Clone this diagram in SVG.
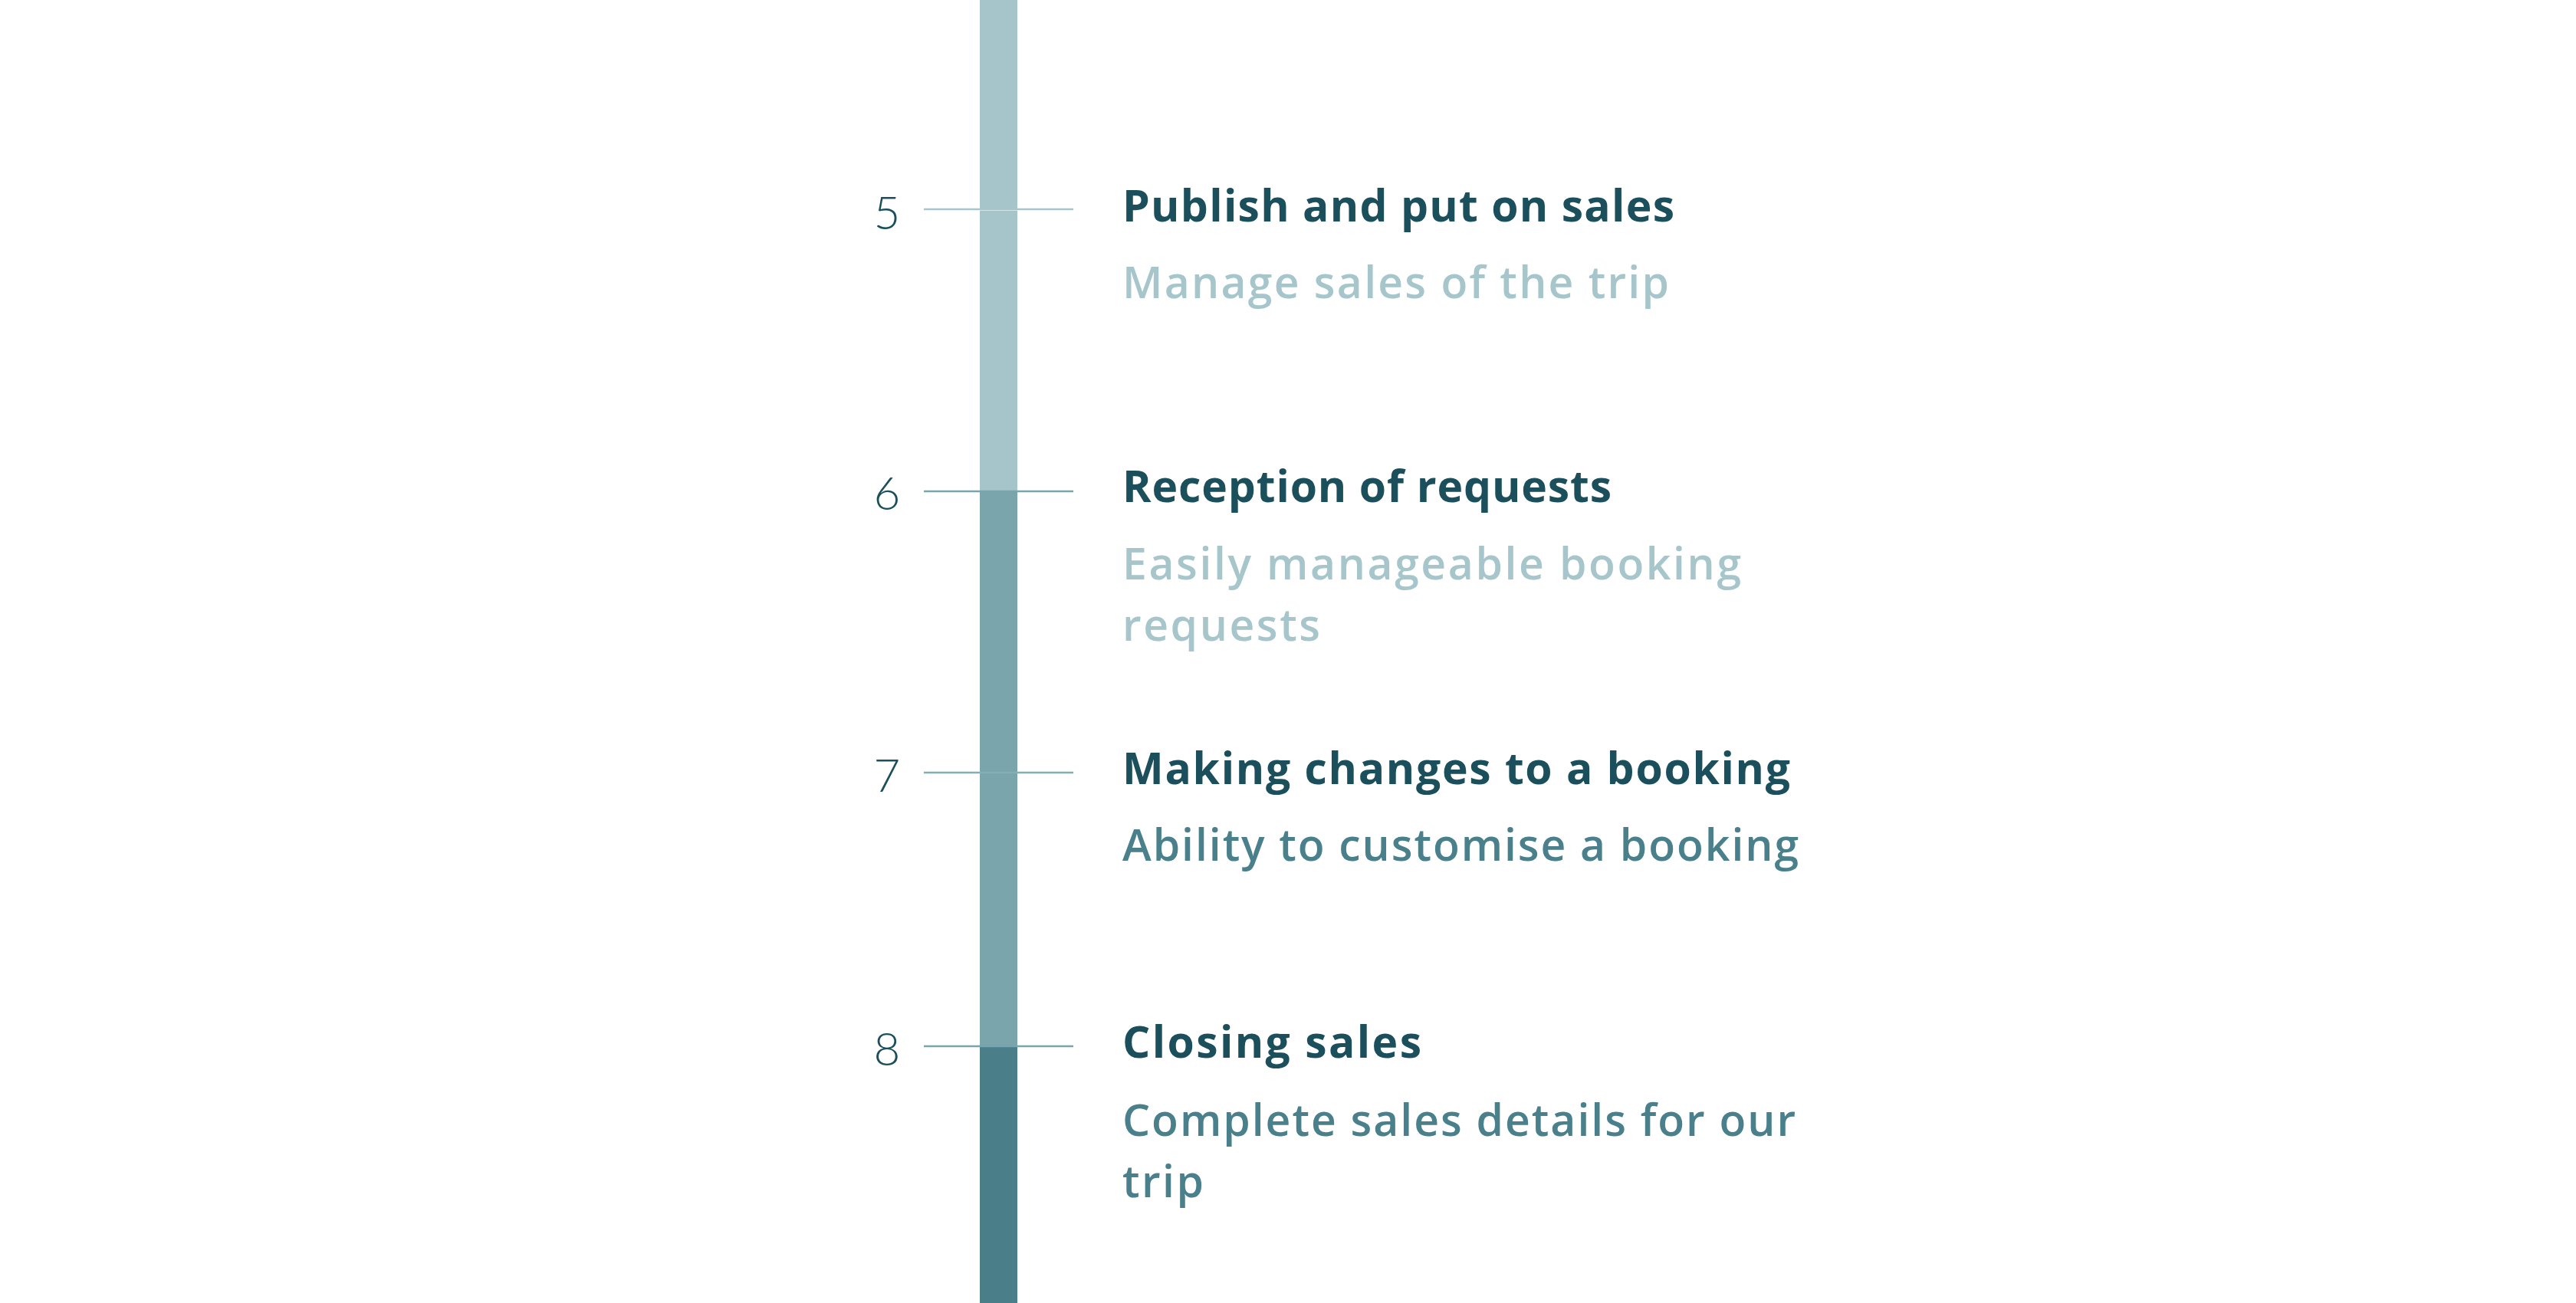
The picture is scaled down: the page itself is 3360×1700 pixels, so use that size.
<svg xmlns="http://www.w3.org/2000/svg" width="3360" height="1700" viewBox="0 0 3360 1700">
  <style>
    text { font-variant-ligatures: none; }
    .num { font-family: Lato, "Noto Sans", sans-serif; font-weight: 300; font-size: 60px; fill: #1b4f5b; text-anchor: middle; }
    .title { font-family: "Open Sans", "Noto Sans", sans-serif; font-weight: 700; font-size: 57px; fill: #1b4f5b; }
    .sub { font-family: "Open Sans", "Noto Sans", sans-serif; font-weight: 600; font-size: 57px; }
    .light { fill: #a6c6cb; }
    .mid { fill: #4a808b; }
    .tick { stroke-width: 2.5; }
  </style>
  <rect width="3360" height="1700" fill="#ffffff"/>
  <g id="timeline-bar">
    <rect x="1278" y="0" width="49" height="640" fill="#a6c5ca"/>
    <rect x="1278" y="640" width="49" height="726" fill="#7ba5ad"/>
    <rect x="1278" y="1366" width="49" height="334" fill="#4a7f8a"/>
  </g>
  <g id="connectors">
    <line class="tick" x1="1205" y1="273" x2="1400" y2="273" stroke="#a6c6cb"/>
    <line x1="1278" y1="274.5" x2="1327" y2="274.5" stroke="#ffffff" stroke-opacity="0.5" stroke-width="1"/>
    <line class="tick" x1="1205" y1="641" x2="1400" y2="641" stroke="#7aa5ad"/>
    <line class="tick" x1="1205" y1="1008" x2="1400" y2="1008" stroke="#84aeb5"/>
    <line class="tick" x1="1205" y1="1365" x2="1400" y2="1365" stroke="#7aa5ad"/>
  </g>
  <g id="step-5">
    <text class="num" x="1157" y="299">5</text>
    <text class="title" x="1464" y="289" textLength="720">Publish and put on sales</text>
    <text class="sub light" x="1464" y="389" textLength="713">Manage sales of the trip</text>
  </g>
  <g id="step-6">
    <text class="num" x="1157" y="665">6</text>
    <text class="title" x="1464" y="655" textLength="638">Reception of requests</text>
    <text class="sub light" x="1464" y="756" textLength="807">Easily manageable booking</text>
    <text class="sub light" x="1464" y="836" textLength="258">requests</text>
  </g>
  <g id="step-7">
    <text class="num" x="1157" y="1033">7</text>
    <text class="title" x="1464" y="1023" textLength="871">Making changes to a booking</text>
    <text class="sub mid" x="1464" y="1123" textLength="882">Ability to customise a booking</text>
  </g>
  <g id="step-8">
    <text class="num" x="1157" y="1390">8</text>
    <text class="title" x="1464" y="1380" textLength="390">Closing sales</text>
    <text class="sub mid" x="1464" y="1482" textLength="878">Complete sales details for our</text>
    <text class="sub mid" x="1464" y="1562" textLength="106">trip</text>
  </g>
</svg>
